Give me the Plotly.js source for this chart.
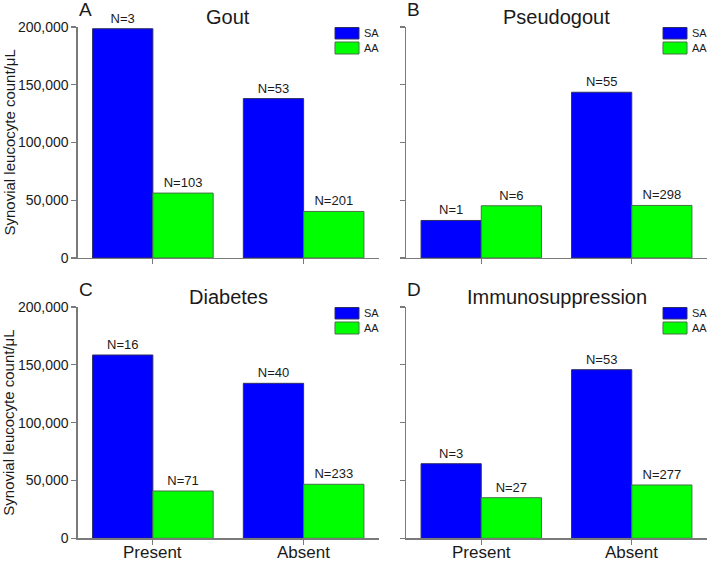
<!DOCTYPE html>
<html>
<head>
<meta charset="utf-8">
<script src="https://cdn.plot.ly/plotly-3.0.1.min.js"></script>
<style>
  html, body { margin: 0; padding: 0; background: #fff; }
  #chart { width: 709px; height: 562px; }
</style>
</head>
<body>
<div id="chart"></div>
<script>
// Categories along each x axis
const categories = ['Present', 'Absent'];

// Mean synovial leucocyte count (cells/µL), septic (SA) vs aseptic (AA) arthritis
const goutSA = [198500, 138000];
const goutAA = [56200, 40300];
const goutNSA = [3, 53];
const goutNAA = [103, 201];

const pseudoSA = [32500, 143500];
const pseudoAA = [45200, 45500];
const pseudoNSA = [1, 55];
const pseudoNAA = [6, 298];

const diabSA = [158500, 134000];
const diabAA = [40900, 46700];
const diabNSA = [16, 40];
const diabNAA = [71, 233];

const immunoSA = [64500, 145800];
const immunoAA = [35100, 46100];
const immunoNSA = [3, 53];
const immunoNAA = [27, 277];

const panelTitles = ['Gout', 'Pseudogout', 'Diabetes', 'Immunosuppression'];
const panelLetters = ['A', 'B', 'C', 'D'];
const yTicks = [0, 50000, 100000, 150000, 200000];
const seriesNames = ['SA', 'AA'];

const BLUE = '#0000fe';
const GREEN = '#00ff00';
const AXIS = '#7a7a7a';
const FONT = 'Arial, "Liberation Sans", sans-serif';

const panels = [
  { sa: goutSA, aa: goutAA, nsa: goutNSA, naa: goutNAA },
  { sa: pseudoSA, aa: pseudoAA, nsa: pseudoNSA, naa: pseudoNAA },
  { sa: diabSA, aa: diabAA, nsa: diabNSA, naa: diabNAA },
  { sa: immunoSA, aa: immunoAA, nsa: immunoNSA, naa: immunoNAA }
];

const W = 709, H = 562;
// pixel frames of each plot area: [left, right, top, bottom]
const frames = [
  [77.5, 379, 27, 258],
  [406, 707, 27, 258],
  [77.5, 379, 307, 538.3],
  [406, 707, 307, 538.3]
];

const traces = [];
const layout = {
  width: W, height: H,
  margin: { l: 0, r: 0, t: 0, b: 0 },
  paper_bgcolor: '#fff', plot_bgcolor: '#fff',
  showlegend: false,
  barmode: 'group', bargap: 0.2, bargroupgap: 0,
  font: { family: FONT, color: '#1a1a1a' },
  annotations: [], shapes: []
};

panels.forEach((p, i) => {
  const k = i === 0 ? '' : String(i + 1);
  const xa = 'x' + k, ya = 'y' + k;
  const [l, r, t, b] = frames[i];
  const bottomRow = i >= 2;
  const leftCol = i % 2 === 0;

  traces.push({
    type: 'bar', x: categories, y: p.sa, name: seriesNames[0],
    xaxis: xa, yaxis: ya,
    marker: { color: BLUE, line: { color: '#303060', width: 1 } },
    text: p.nsa.map(n => 'N=' + n), textposition: 'outside',
    textfont: { size: 13, color: '#1a1a1a', family: FONT },
    cliponaxis: false, hoverinfo: 'none'
  });
  traces.push({
    type: 'bar', x: categories, y: p.aa, name: seriesNames[1],
    xaxis: xa, yaxis: ya,
    marker: { color: GREEN, line: { color: '#4a704a', width: 1 } },
    text: p.naa.map(n => 'N=' + n), textposition: 'outside',
    textfont: { size: 13, color: '#1a1a1a', family: FONT },
    cliponaxis: false, hoverinfo: 'none'
  });

  layout['xaxis' + k] = {
    domain: [l / W, r / W], anchor: ya,
    type: 'category', range: [-0.5, 1.5],
    showline: true, linecolor: AXIS, linewidth: 1.2,
    ticks: 'outside', ticklen: 5, tickcolor: AXIS, tickwidth: 1.2,
    showticklabels: false,
    showgrid: false, zeroline: false, fixedrange: true
  };
  layout['yaxis' + k] = {
    domain: [1 - b / H, 1 - t / H], anchor: xa,
    range: [0, 200000],
    tickvals: yTicks, tickformat: ',d',
    showline: true, linecolor: AXIS, linewidth: 1.2,
    ticks: 'outside', ticklen: 5, tickcolor: AXIS, tickwidth: 1.2,
    showticklabels: leftCol,
    tickfont: { size: 14, family: FONT, color: '#1a1a1a' },
    showgrid: false, zeroline: false, fixedrange: true
  };

  // category labels under the bottom row, placed at each category position
  if (bottomRow) {
    categories.forEach(c => {
      layout.annotations.push({
        xref: xa, yref: 'paper',
        x: c, y: 1 - 552 / H,
        xanchor: 'center', yanchor: 'middle',
        borderpad: 0,
        text: c, showarrow: false,
        font: { size: 17, family: FONT, color: '#1a1a1a' }
      });
    });
  }

  // panel title
  layout.annotations.push({
    xref: 'paper', yref: 'paper',
    x: ((l + r) / 2) / W, y: 1 - (t - 10) / H,
    xanchor: 'center', yanchor: 'middle',
    text: panelTitles[i], showarrow: false,
    font: { size: 20, family: FONT, color: '#1a1a1a' }
  });
  // panel letter
  layout.annotations.push({
    xref: 'paper', yref: 'paper',
    x: (l - 1) / W, y: 1 - (t - 18) / H,
    xanchor: 'left', yanchor: 'middle',
    text: panelLetters[i], showarrow: false,
    font: { size: 19, family: FONT, color: '#1a1a1a' }
  });
  // y axis title on the left column
  if (leftCol) {
    layout.annotations.push({
      xref: 'paper', yref: 'paper',
      x: 9 / W, y: 1 - ((t + b) / 2) / H,
      xanchor: 'center', yanchor: 'middle', textangle: -90,
      text: 'Synovial leucocyte count/\u03bcL', showarrow: false,
      font: { size: 15, family: FONT, color: '#1a1a1a' }
    });
  }

  // legend key boxes and labels
  const boxR = r - 20, boxL = boxR - 24;
  const rows = [[t + 0.5, t + 12], [t + 15, t + 27]];
  [BLUE, GREEN].forEach((c, j) => {
    layout.shapes.push({
      type: 'rect', xref: 'paper', yref: 'paper',
      x0: boxL / W, x1: boxR / W,
      y0: 1 - rows[j][1] / H, y1: 1 - rows[j][0] / H,
      fillcolor: c, line: { color: j === 0 ? '#303060' : '#4a704a', width: 1 }
    });
    layout.annotations.push({
      xref: 'paper', yref: 'paper',
      x: (boxR + 3) / W, y: 1 - ((rows[j][0] + rows[j][1]) / 2) / H,
      xanchor: 'left', yanchor: 'middle',
      text: seriesNames[j], showarrow: false,
      font: { size: 11, family: FONT, color: '#1a1a1a' }
    });
  });
});

Plotly.newPlot('chart', traces, layout, { staticPlot: true, displayModeBar: false });
</script>
</body>
</html>
